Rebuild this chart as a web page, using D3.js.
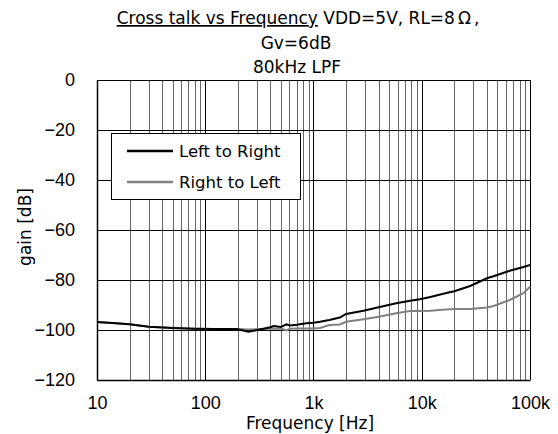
<!DOCTYPE html>
<html><head><meta charset="utf-8">
<script src="https://cdn.jsdelivr.net/npm/d3@7"></script>
<style>body{margin:0;background:#fff}svg{display:block}text{font-family:"DejaVu Sans",sans-serif;fill:#000}</style>
</head><body>
<script>
const freq = [10, 15, 20, 30, 50, 80, 120, 195, 250, 320, 400, 430, 500, 563, 600, 700, 860, 1000, 1150, 1400, 1750, 2000, 2900, 4000, 5800, 7800, 9600, 12000, 18000, 20000, 28000, 40000, 46000, 65000, 87000, 100000];
const leftToRight = [-96.8, -97.3, -97.7, -98.7, -99.2, -99.5, -99.6, -99.6, -100.7, -99.8, -98.9, -98.4, -98.8, -97.7, -98.2, -97.9, -97.3, -97.1, -96.7, -96.0, -95.0, -93.6, -92.3, -90.9, -89.3, -88.3, -87.7, -86.8, -84.9, -84.5, -82.4, -79.3, -78.5, -76.3, -74.8, -74.0];
const rightToLeft = [-96.8, -97.3, -97.7, -98.7, -99.2, -99.5, -99.6, -99.6, -99.8, -99.6, -99.5, -99.5, -99.4, -100.2, -99.5, -99.4, -99.4, -99.4, -99.2, -98.0, -97.8, -96.7, -95.7, -94.7, -93.3, -92.4, -92.4, -92.3, -91.7, -91.6, -91.6, -91.0, -90.4, -88.0, -85.3, -82.7];
const seriesNames = ["Left to Right", "Right to Left"];
const xTickValues = [10, 100, 1000, 10000, 100000];
const xTickLabels = ["10", "100", "1k", "10k", "100k"];
const yTickValues = [0, -20, -40, -60, -80, -100, -120];

const W = 558, H = 434;
const svg = d3.select("body").append("svg").attr("width", W).attr("height", H);
const x = d3.scaleLog().domain([10, 100000]).range([97, 530]);
const y = d3.scaleLinear().domain([-120, 0]).range([380, 80]);

// minor grid
const minor = [];
for (let d = 10; d < 100000; d *= 10) for (let m = 1; m <= 9; m++) minor.push(d * m);
minor.push(100000);
svg.append("g").selectAll("line").data(minor).join("line")
  .attr("x1", d => Math.round(x(d)) + 0.5).attr("x2", d => Math.round(x(d)) + 0.5)
  .attr("y1", y(0)).attr("y2", y(-120))
  .attr("stroke", d => xTickValues.includes(d) ? "#000" : "#666").attr("stroke-width", 1);
svg.append("g").selectAll("line").data(yTickValues).join("line")
  .attr("x1", x(10)).attr("x2", x(100000))
  .attr("y1", d => Math.round(y(d)) + 0.5).attr("y2", d => Math.round(y(d)) + 0.5)
  .attr("stroke", "#000").attr("stroke-width", 1);

// axes
const xAxis = svg.append("g").attr("transform", `translate(0,${y(-120)})`)
  .call(d3.axisBottom(x).tickValues(xTickValues).tickFormat((d, i) => xTickLabels[i]).tickSize(0).tickPadding(16));
xAxis.select(".domain").attr("stroke", "#000").attr("stroke-width", 1.5);
xAxis.selectAll("text").style("font-family", "Liberation Sans, Arial, sans-serif").style("font-size", "18px").attr("fill", "#000");
const yAxis = svg.append("g").attr("transform", `translate(${x(10)},0)`)
  .call(d3.axisLeft(y).tickValues(yTickValues).tickFormat(d => d === 0 ? "0" : "\u2212" + Math.abs(d)).tickSize(0).tickPadding(22));
yAxis.select(".domain").attr("stroke", "#000").attr("stroke-width", 1.5);
yAxis.selectAll("text").style("font-family", "Liberation Sans, Arial, sans-serif").style("font-size", "18px").attr("fill", "#000");

// lines
const line = d3.line().x((d, i) => x(freq[i])).y(d => y(d));
svg.append("path").datum(rightToLeft).attr("d", line).attr("fill", "none").attr("stroke", "#808080").attr("stroke-width", 2);
svg.append("path").datum(leftToRight).attr("d", line).attr("fill", "none").attr("stroke", "#000").attr("stroke-width", 2);

// legend
const lg = svg.append("g");
lg.append("rect").attr("x", 111.5).attr("y", 133.5).attr("width", 189).attr("height", 66).attr("fill", "#fff").attr("stroke", "#000");
const colors = ["#000", "#808080"];
seriesNames.forEach((n, i) => {
  const yy = 151 + i * 31;
  lg.append("line").attr("x1", 127).attr("x2", 173).attr("y1", yy).attr("y2", yy).attr("stroke", colors[i]).attr("stroke-width", 2.5);
  lg.append("text").attr("x", 179).attr("y", yy + 6).style("font-size", "16.5px").text(n);
});

// titles
const t = svg.append("text").attr("x", 298).attr("y", 24).attr("text-anchor", "middle").style("font-size", "17px");
t.append("tspan").style("text-decoration", "underline").text("Cross talk vs Frequency");
t.append("tspan").text(" VDD=5V, RL=8");
t.append("tspan").attr("dx", 3).text("\u03A9");
t.append("tspan").attr("dx", 3).text(",");
svg.append("text").attr("x", 296).attr("y", 49).attr("text-anchor", "middle").style("font-size", "17px").text("Gv=6dB");
svg.append("text").attr("x", 297).attr("y", 73).attr("text-anchor", "middle").style("font-size", "17px").text("80kHz LPF");
svg.append("text").attr("x", 310).attr("y", 429).attr("text-anchor", "middle").style("font-size", "17px").text("Frequency [Hz]");
svg.append("text").attr("transform", "translate(31,227) rotate(-90)").attr("text-anchor", "middle").style("font-size", "17px").text("gain [dB]");
</script>
</body></html>
